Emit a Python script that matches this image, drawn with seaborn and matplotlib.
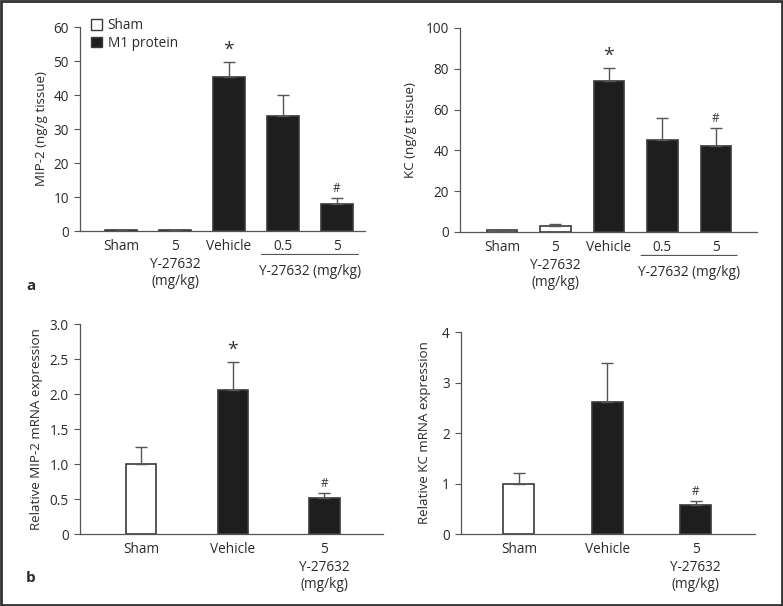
import matplotlib
matplotlib.use("Agg")
import matplotlib.pyplot as plt
import seaborn as sns
import pandas as pd
from matplotlib.patches import Rectangle

# ---- data ----
top_groups = ["Sham", "5\nY-27632\n(mg/kg)", "Vehicle", "0.5", "5"]
top_colors = ["white", "white", "#1e1e1e", "#1e1e1e", "#1e1e1e"]
mip2_protein = [0.3, 0.3, 45.4, 33.9, 7.8]
mip2_protein_err = [0.0, 0.0, 4.4, 6.0, 1.8]
kc_protein = [0.8, 2.8, 74.2, 45.3, 42.3]
kc_protein_err = [0.3, 1.3, 6.2, 10.6, 8.7]

bot_groups = ["Sham", "Vehicle", "5\nY-27632\n(mg/kg)"]
bot_colors = ["white", "#1e1e1e", "#1e1e1e"]
mip2_mrna = [1.0, 2.06, 0.52]
mip2_mrna_err = [0.24, 0.40, 0.066]
kc_mrna = [1.0, 2.62, 0.57]
kc_mrna_err = [0.20, 0.76, 0.09]

sns.set_style("ticks")
plt.rcParams["font.family"] = ["Open Sans", "DejaVu Sans"]
plt.rcParams["font.size"] = 9.8
plt.rcParams["text.color"] = "#2a2a2a"
plt.rcParams["xtick.color"] = "#555555"
plt.rcParams["ytick.color"] = "#555555"
plt.rcParams["xtick.labelcolor"] = "#2a2a2a"
plt.rcParams["ytick.labelcolor"] = "#2a2a2a"
plt.rcParams["axes.labelcolor"] = "#2a2a2a"

fig = plt.figure(figsize=(7.83, 6.06), dpi=100)
edge = "#3a3a3a"


def panel(rect, groups, colors, vals, errs, yticks, ylabels, ylabel,
          xlim, width, marks, labelpad):
    ax = fig.add_axes(rect)
    df = pd.DataFrame({"group": groups, "value": vals})
    sns.barplot(data=df, x="group", y="value", hue="group", order=groups,
                palette=dict(zip(groups, colors)), width=width, legend=False,
                edgecolor=edge, linewidth=1.2, ax=ax)
    xs = list(range(len(groups)))
    ax.errorbar(xs, vals, yerr=[[0] * len(errs), errs], fmt="none",
                ecolor="#555555", elinewidth=1, capsize=4, capthick=1)
    for i, m in marks.items():
        top = vals[i] + errs[i] + (yticks[-1] - yticks[0]) * 0.015
        ax.text(i, top, m, ha="center", va="bottom",
                fontsize=14 if m == "*" else 8.5, color="#333333")
    ax.set_xlim(*xlim)
    ax.set_ylim(yticks[0], yticks[-1])
    ax.set_yticks(yticks)
    ax.set_yticklabels(ylabels)
    ax.set_xlabel("")
    ax.set_ylabel(ylabel, labelpad=labelpad, fontsize=9.6)
    ax.tick_params(axis="x", length=0, pad=6, labelsize=9.8)
    ax.tick_params(axis="y", length=4, width=0.8, pad=4, labelsize=9.8)
    for s in ["top", "right"]:
        ax.spines[s].set_visible(False)
    for s in ["left", "bottom"]:
        ax.spines[s].set_color("#555555")
        ax.spines[s].set_linewidth(0.9)
    return ax


ax1 = panel([0.1022, 0.6188, 0.364, 0.3366], top_groups, top_colors,
            mip2_protein, mip2_protein_err, [0, 10, 20, 30, 40, 50, 60],
            ["0", "10", "20", "30", "40", "50", "60"], "MIP-2 (ng/g tissue)",
            (-0.76, 4.52), 0.59, {2: "*", 4: "#"}, 4)
ax2 = panel([0.5875, 0.6172, 0.3793, 0.3366], top_groups, top_colors,
            kc_protein, kc_protein_err, [0, 20, 40, 60, 80, 100],
            ["0", "20", "40", "60", "80", "100"], "KC (ng/g tissue)",
            (-0.785, 4.77), 0.57, {2: "*", 4: "#"}, 6)
ax3 = panel([0.1022, 0.1188, 0.387, 0.3465], bot_groups, bot_colors,
            mip2_mrna, mip2_mrna_err, [0, 0.5, 1.0, 1.5, 2.0, 2.5, 3.0],
            ["0", "0.5", "1.0", "1.5", "2.0", "2.5", "3.0"],
            "Relative MIP-2 mRNA expression",
            (-0.667, 2.64), 0.33, {1: "*", 2: "#"}, 5)
ax4 = panel([0.5888, 0.1188, 0.3755, 0.3333], bot_groups, bot_colors,
            kc_mrna, kc_mrna_err, [0, 1, 2, 3, 4],
            ["0", "1", "2", "3", "4"], "Relative KC mRNA expression",
            (-0.655, 2.67), 0.35, {2: "#"}, 8)

# group bracket under 0.5 and 5
for ax in (ax1, ax2):
    ax.annotate("", xy=(2.55, -0.115), xytext=(4.45, -0.115),
                xycoords=("data", "axes fraction"),
                arrowprops=dict(arrowstyle="-", color="#555555", lw=0.8))
    ax.text(3.5, -0.16, "Y-27632 (mg/kg)", transform=ax.get_xaxis_transform(),
            ha="center", va="top", fontsize=9.8)

# legend
ax1.legend(handles=[Rectangle((0, 0), 1, 1, facecolor="white", edgecolor=edge),
                    Rectangle((0, 0), 1, 1, facecolor="#1e1e1e", edgecolor=edge)],
           labels=["Sham", "M1 protein"], loc="upper left",
           bbox_to_anchor=(0.02, 1.07), frameon=False, fontsize=9.8,
           handlelength=0.8, handleheight=0.8, handletextpad=0.4,
           labelspacing=0.2, borderaxespad=0)

fig.text(26 / 783, 1 - 286 / 606, "a", fontweight="bold", fontsize=11,
         ha="left", va="center")
fig.text(26 / 783, 1 - 578 / 606, "b", fontweight="bold", fontsize=11,
         ha="left", va="center")

# outer frame
fig.patches.append(Rectangle((0.001, 0.001), 0.998, 0.998, transform=fig.transFigure,
                             fill=False, edgecolor="#333333", linewidth=2))

fig.savefig("out.png", dpi=100)
